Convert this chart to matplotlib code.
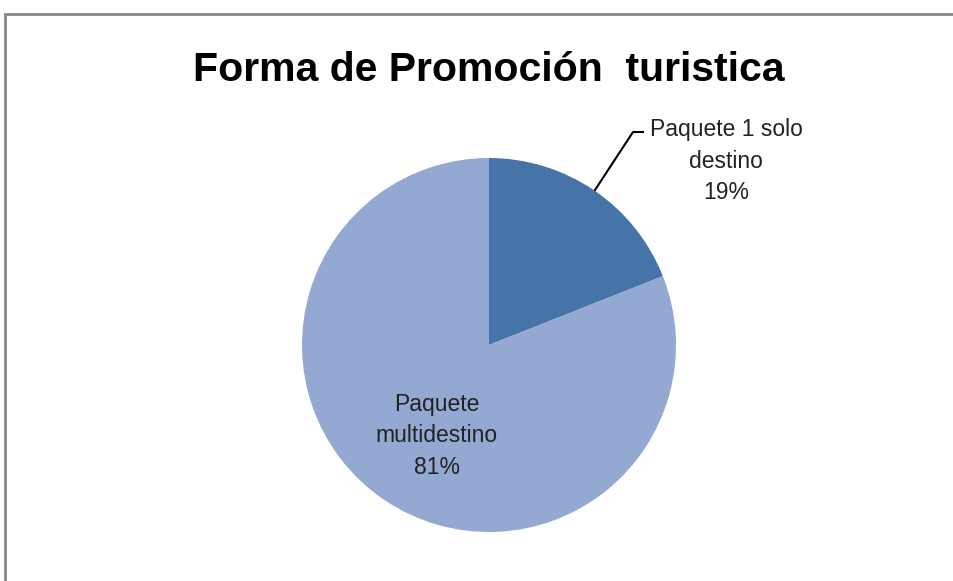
import matplotlib.pyplot as plt
from matplotlib.patches import Rectangle

# chart data
labels = ['Paquete 1 solo\ndestino', 'Paquete\nmultidestino']
values = [19, 81]
colors = ['#4674A8', '#94A9D1']

W, H = 954, 581
fig = plt.figure(figsize=(W / 100, H / 100), dpi=100)
ax = fig.add_axes([0, 0, 1, 1])

# outer chart frame (cut off at right/bottom like the screenshot)
ax.add_patch(Rectangle((5, -10), W + 20, H - 14 + 10, fill=False,
                       edgecolor='#888888', lw=2))

cx, cy, r = 489, H - 345, 187
wedges, _ = ax.pie(values, colors=colors, startangle=90, counterclock=False,
                   center=(cx, cy), radius=r, frame=True)
ax.set_xlim(0, W)
ax.set_ylim(0, H)
ax.set_aspect('equal')
ax.axis('off')

font = 'Liberation Sans'
ax.text(cx, H - 70, 'Forma de Promoción  turistica', ha='center', va='center',
        fontsize=29.5, fontweight='bold', family=font)

pct = [f'{v}%' for v in values]
ax.text(726, H - 161, labels[0] + '\n' + pct[0], ha='center', va='center',
        fontsize=16.5, family=font, color='#222222', linespacing=1.45)
ax.text(437, H - 436, labels[1] + '\n' + pct[1], ha='center', va='center',
        fontsize=16.5, family=font, color='#222222', linespacing=1.45)

# leader line for small slice
ax.plot([595, 633, 643], [H - 190, H - 132, H - 132], color='black', lw=1.5)

fig.savefig('out.png', dpi=100)
